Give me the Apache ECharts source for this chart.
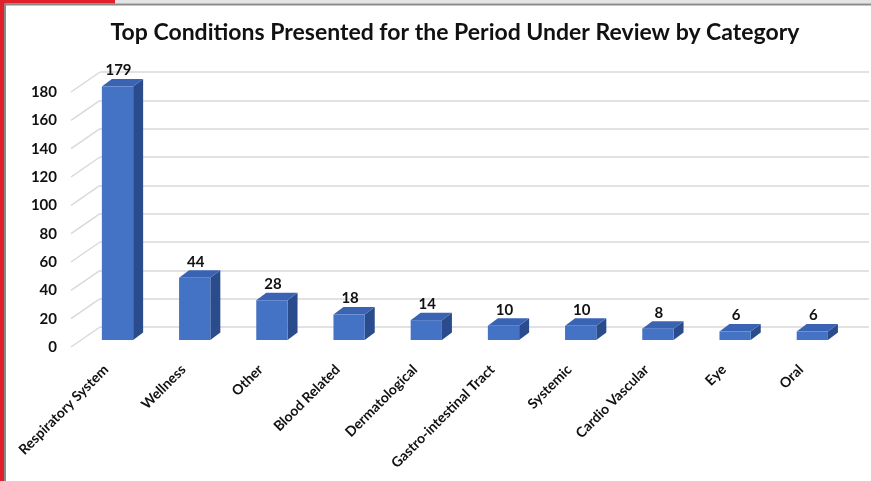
<!DOCTYPE html>
<html>
<head>
<meta charset="utf-8">
<script src="https://cdn.jsdelivr.net/npm/echarts@6/dist/echarts.min.js"></script>
<style>
html,body{margin:0;padding:0;background:#fff;}
#chart{width:871px;height:481px;}
</style>
</head>
<body>
<div id="chart"></div>
<script>
const categories = ['Respiratory System','Wellness','Other','Blood Related','Dermatological','Gastro-intestinal Tract','Systemic','Cardio Vascular','Eye','Oral'];
const values = [179,44,28,18,14,10,10,8,6,6];
const yTicks = [0,20,40,60,80,100,120,140,160,180];
const yMin = 0, yMax = 180, yInterval = 20;

const FONT = 'Lato';
const chart = echarts.init(document.getElementById('chart'));

const DEPTH_X = 10, DEPTH_Y = -7.5;
const colFront = '#4472C4', colSide = '#2B4C8C', colTop = '#3A64B3';

function barItem(params, api) {
  const i = api.value(0), v = api.value(1);
  const base = api.coord([i, 0]);
  const top = api.coord([i, v]);
  const w = api.size([1, 0])[0] * 0.405;
  const x0 = base[0] - w / 2, x1 = base[0] + w / 2;
  const yb = base[1], yt = top[1];
  return {
    type: 'group',
    children: [
      { type: 'polygon', shape: { points: [[x1, yt], [x1 + DEPTH_X, yt + DEPTH_Y], [x1 + DEPTH_X, yb + DEPTH_Y], [x1, yb]] }, style: { fill: colSide } },
      { type: 'polygon', shape: { points: [[x0, yt], [x0 + DEPTH_X, yt + DEPTH_Y], [x1 + DEPTH_X, yt + DEPTH_Y], [x1, yt]] }, style: { fill: colTop } },
      { type: 'rect', shape: { x: x0, y: yt, width: w, height: yb - yt }, style: { fill: colFront } },
      { type: 'text', style: { x: base[0] + 1, y: yt - 16, text: String(v), align: 'center', verticalAlign: 'middle', font: 'bold 15px ' + FONT, fill: '#111' } }
    ]
  };
}

function wallItem(params, api) {
  const t = api.value(1);
  const p = api.coord([0, t]);
  const x = params.coordSys.x;
  return { type: 'line', shape: { x1: x, y1: p[1], x2: x + 29, y2: p[1] - 20 }, style: { stroke: '#d9d9d9', lineWidth: 1.5 } };
}

const option = {
  animation: false,
  backgroundColor: '#ffffff',
  title: {
    text: 'Top Conditions Presented for the Period Under Review by Category',
    left: 450, top: 16, textAlign: 'center',
    textStyle: { fontFamily: FONT, fontWeight: 'bold', fontSize: 23, color: '#111' }
  },
  graphic: [
    { type: 'rect', shape: { x: 115, y: 0, width: 756, height: 3.5 }, style: { fill: '#e4e4e4' }, silent: true },
    { type: 'rect', shape: { x: 4, y: 3.5, width: 867, height: 2 }, style: { fill: '#8a8a8a' }, silent: true },
    { type: 'rect', shape: { x: 4, y: 3.5, width: 2, height: 478 }, style: { fill: '#8a8a8a' }, silent: true },
    { type: 'rect', shape: { x: 0, y: 0, width: 115, height: 3.5 }, style: { fill: '#e0202a' }, silent: true },
    { type: 'rect', shape: { x: 0, y: 0, width: 4, height: 481 }, style: { fill: '#e0202a' }, silent: true }
  ],
  grid: [
    { left: 78.9, width: 772, top: 85, height: 255 },
    { left: 100, width: 769, top: 72, height: 255 },
    { left: 71, width: 770, top: 92, height: 255 }
  ],
  xAxis: [
    { type: 'category', gridIndex: 0, data: categories, axisLine: { show: false }, axisTick: { show: false },
      axisLabel: { rotate: 45, margin: 16, interval: 0, padding: [0, 16, 16, 0], fontFamily: FONT, fontWeight: 'bold', fontSize: 14, color: '#111' } },
    { type: 'category', gridIndex: 1, data: categories, show: false },
    { type: 'category', gridIndex: 2, data: categories, show: false }
  ],
  yAxis: [
    { type: 'value', gridIndex: 0, min: yMin, max: yMax, interval: yInterval, show: false },
    { type: 'value', gridIndex: 1, min: yMin, max: yMax, interval: yInterval,
      axisLine: { show: false }, axisTick: { show: false }, axisLabel: { show: false },
      splitLine: { show: true, lineStyle: { color: '#d9d9d9', width: 1.5 } } },
    { type: 'value', gridIndex: 2, min: yMin, max: yMax, interval: yInterval,
      axisLine: { show: false }, axisTick: { show: false }, splitLine: { show: false },
      axisLabel: { margin: 14, fontFamily: FONT, fontWeight: 'bold', fontSize: 15, color: '#111' } }
  ],
  series: [
    { type: 'custom', xAxisIndex: 2, yAxisIndex: 2, renderItem: wallItem, data: yTicks.map(t => [0, t]), silent: true, z: 1 },
    { type: 'custom', xAxisIndex: 0, yAxisIndex: 0, renderItem: barItem, data: values.map((v, i) => [i, v]), z: 5 }
  ]
};
chart.setOption(option);
</script>
</body>
</html>
